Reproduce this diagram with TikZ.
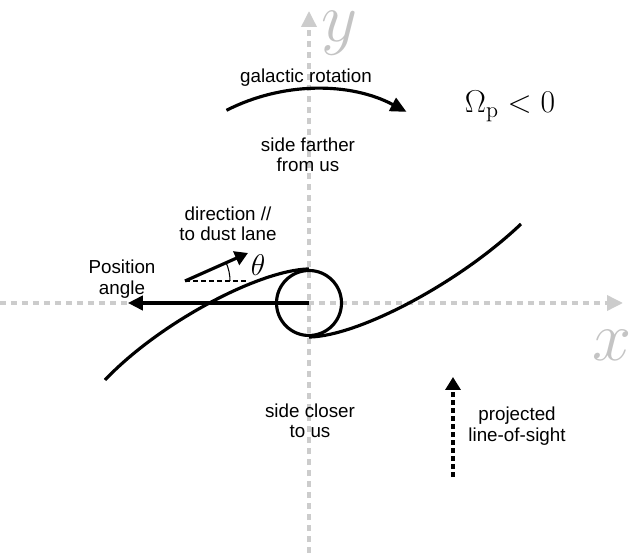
\documentclass[tikz,border=0pt]{standalone}
\usepackage{fix-cm}
\usepackage[no-math]{fontspec}
\setmainfont{Liberation Sans}
\usetikzlibrary{calc,arrows.meta}
\definecolor{axisgray}{HTML}{CCCCCC}
\definecolor{lblgray}{HTML}{C4C4C4}
\tikzset{
  lbl/.style={align=center,inner sep=0pt,font=\fontsize{10.7}{11.6}\selectfont},
  axis/.style={-{Triangle[length=3.2mm,width=3mm]},axisgray,line width=2pt,dash pattern=on 1.2mm off 1mm},
  thick arrow/.style={-{Triangle[length=#1,width=2.9mm]},line width=1.8pt},
}

\begin{document}
\begin{tikzpicture}[x=0.02cm,y=0.02cm]
\tikzset{
  axlbl/.style={text=lblgray,inner sep=0pt,font=\fontsize{40}{40}\selectfont},
  arm/.style={line width=1.8pt},
  core/.style={circle,draw,line width=1.8pt,inner sep=0pt,minimum size=1.3cm},
  los/.style={-{Triangle[length=2.6mm,width=3mm]},line width=2pt,dash pattern=on 1mm off 0.6mm},
}
\useasboundingbox (-309,-250) rectangle (322,303);
% axes
\coordinate (xl) at (-309,0);
\coordinate (xr) at (314,0);
\coordinate (yb) at (0,-250);
\coordinate (yt) at (0,292);
\draw[axis] (xl) -- (xr);
\draw[axis] (yb) -- (yt);
\node[axlbl] (xlab) at (303,-42) {$x$};
\node[axlbl] (ylab) at (31,270) {$y$};

% bar and arms
\node[core] (bar) at (0,0) {};
\draw[arm] (bar.north) .. controls (-50,33) and (-150,-20) .. (-204,-77);
\draw[arm] (bar.south) .. controls (50,-33) and (150,20) .. (212,79);
\coordinate (paend) at (-181,0);
\draw[thick arrow=3mm] (bar.center) -- (paend);
\node[lbl] (pa) at (-187,24) {Position\\angle};

% dust lane direction
\coordinate (dl) at (-124,22);
\coordinate (dt) at (-61,50);
\coordinate (dr) at (-62,22);
\draw[thick arrow=2.6mm] (dl) -- (dt);
\draw[line width=0.6pt,dash pattern=on 1mm off 0.6mm] (dl) -- (dr);
\draw[line width=0.6pt] ($(dl)+(45,0)$) arc[start angle=0,end angle=24,radius=0.9cm];
\node[inner sep=0pt,font=\fontsize{17}{17}\selectfont] (theta) at (-51,38) {$\theta$};
\node[lbl] (dir) at (-81,79) {direction //\\to dust lane};

% rotation
\coordinate (rotstart) at (-82.5,192.7);
\draw[thick arrow=3.2mm] (rotstart) arc[start angle=117,end angle=62,radius=3.9cm];
\node[lbl] (rot) at (-3,225) {galactic rotation};
\node[inner sep=0pt,font=\fontsize{18}{18}\selectfont] (omega) at (201,197) {$\Omega_{\rm p}<0$};

\node[lbl] (far) at (-1,148) {side farther\\from us};
\node[lbl] (near) at (1,-118) {side closer\\to us};

% line of sight
\coordinate (losb) at (144,-174);
\coordinate (lost) at (144,-74);
\draw[los] (losb) -- (lost);
\node[lbl] (los) at (208,-123) {projected\\line-of-sight};
\end{tikzpicture}
\end{document}
